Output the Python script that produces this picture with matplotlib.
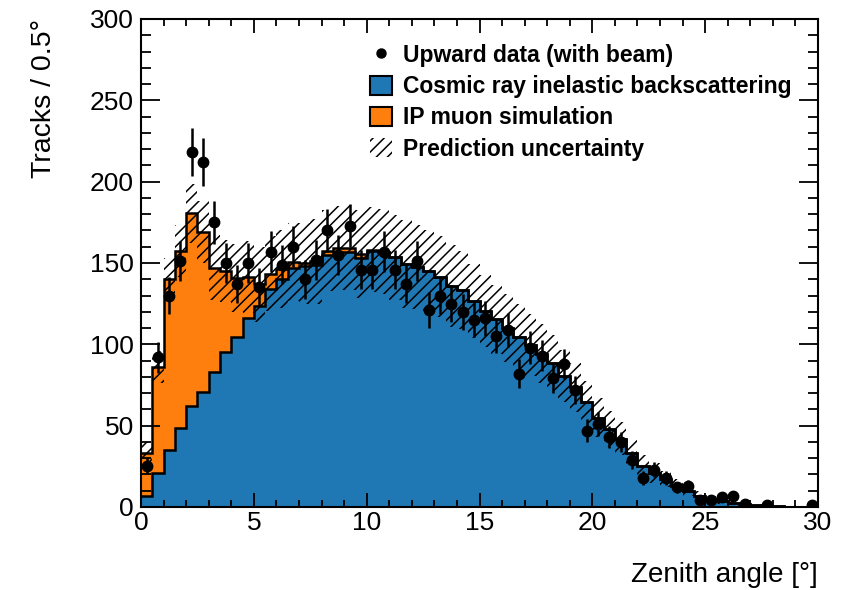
import numpy as np
import matplotlib
matplotlib.use('Agg')
import matplotlib.pyplot as plt
from matplotlib.patches import Patch
from matplotlib.lines import Line2D
from matplotlib.ticker import MultipleLocator

plt.rcParams['font.family'] = ['Liberation Sans', 'DejaVu Sans']
plt.rcParams['hatch.linewidth'] = 1.1

# 0.5 degree bins from 0 to 30 degrees
bin_edges = np.arange(0, 30.01, 0.5)

cosmic = np.array([
    7, 21, 35, 48.5, 62, 71, 83, 95, 104.5, 116,
    123.5, 134, 140, 147, 148, 149, 155, 156.5, 157, 153,
    157.5, 157, 153.5, 149.5, 147.5, 145, 141.5, 135.8, 133.5, 126.6,
    120.5, 115.3, 110, 104.5, 99.5, 94.2, 88.6, 80.5, 73.6, 64.5,
    55, 48, 42, 33, 25, 21, 17, 13, 10, 7,
    5, 3.5, 2.5, 1.6, 1.1, 0.7, 0.4, 0.3, 0.2, 0.1])

ip_muon = np.array([
    26, 65, 105, 109, 118.5, 98, 64, 50, 36.2, 25.4,
    13.3, 9.3, 6.3, 3.4, 1.8, 2, 2.5, 2.7, 2.4, 2.3,
    0.7, 0, 0, 0, 0, 0, 0, 0, 0, 0,
    0, 0, 0, 0, 0, 0, 0, 0, 0, 0,
    0, 0, 0, 0, 0, 0, 0, 0, 0, 0,
    0, 0, 0, 0, 0, 0, 0, 0, 0, 0])

pred_unc = np.array([
    7, 10, 13, 16, 18, 19, 20, 19, 21, 22,
    23, 23, 24, 24, 25, 26, 25, 26, 26, 27,
    26, 26, 26, 27, 26, 25, 25, 25, 24, 23,
    22, 21, 21, 20, 19, 18, 17, 16, 15, 13,
    12, 11, 10, 8, 7, 6, 5, 4, 3.5, 3,
    2, 1.5, 1, 0.8, 0.6, 0.4, 0.3, 0.2, 0.15, 0.1])

data = np.array([
    25, 92, 130, 151, 218, 212, 175, 150, 137, 150,
    135, 157, 149, 160, 140, 152, 170, 155, 173, 146,
    146, 157, 146, 137, 151, 121, 130, 125, 120, 115,
    116, 105, 109, 82, 98, 93, 79, 88, 72, 47,
    51, 43, 40, 29, 18, 23, 18, 12, 13, 4,
    4, 6, 7, 2, 0, 1, 0, 0, 0, 1])

labels = ['Upward data (with beam)', 'Cosmic ray inelastic backscattering',
          'IP muon simulation', 'Prediction uncertainty']

BLUE = '#1f77b4'
ORANGE = '#ff7f0e'

fig = plt.figure(figsize=(8.61, 5.90), dpi=100)
ax = fig.add_axes([141/861, 1-507/590, 677/861, 488/590])

total = cosmic + ip_muon
ax.stairs(cosmic, bin_edges, baseline=0, fill=True, color=BLUE, zorder=1)
ax.stairs(total, bin_edges, baseline=cosmic, fill=True, color=ORANGE, zorder=1)
ax.stairs(cosmic, bin_edges, baseline=None, color='black', lw=1.8, zorder=2)
ax.stairs(total, bin_edges, baseline=None, color='black', lw=1.8, zorder=2)

lower = total - pred_unc
upper = total + pred_unc
ax.fill_between(bin_edges, np.append(lower, lower[-1]), np.append(upper, upper[-1]),
                step='post', facecolor='none', edgecolor='black', hatch='///',
                linewidth=0, zorder=3)

centers = 0.5 * (bin_edges[:-1] + bin_edges[1:])
mask = data > 0
ax.errorbar(centers[mask], data[mask], yerr=np.sqrt(data[mask]), fmt='o',
            color='black', ms=7.5, elinewidth=1.8, capsize=0, zorder=4)

ax.set_xlim(0, 30)
ax.set_ylim(0, 300)
ax.xaxis.set_major_locator(MultipleLocator(5))
ax.xaxis.set_minor_locator(MultipleLocator(1))
ax.yaxis.set_major_locator(MultipleLocator(50))
ax.yaxis.set_minor_locator(MultipleLocator(10))
ax.tick_params(which='both', direction='in', top=True, right=True, width=1.3,
               labelsize=19, pad=5)
ax.tick_params(axis='x', which='both', pad=3)
ax.tick_params(axis='y', which='major', length=14)
ax.tick_params(axis='y', which='minor', length=7)
ax.tick_params(axis='x', which='major', length=10)
ax.tick_params(axis='x', which='minor', length=5)
for s in ax.spines.values():
    s.set_linewidth(1.5)

ax.set_ylabel('Tracks / 0.5°', loc='top', fontsize=20.5, labelpad=24)
ax.set_xlabel('Zenith angle [°]', loc='right', fontsize=20, labelpad=19)

handles = [
    Line2D([], [], marker='o', color='black', ls='none', ms=6.5),
    Patch(facecolor=BLUE, edgecolor='black', linewidth=1.5),
    Patch(facecolor=ORANGE, edgecolor='black', linewidth=1.5),
    Patch(facecolor='none', edgecolor='black', hatch='///', linewidth=0),
]
ax.legend(handles, labels, loc='upper left', bbox_to_anchor=(0.324, 0.968),
          frameon=False, prop={'weight': 'bold', 'size': 16.5},
          handlelength=1.0, handleheight=0.9, handletextpad=0.45,
          labelspacing=0.36, borderaxespad=0)

fig.savefig('out.png', dpi=100)
